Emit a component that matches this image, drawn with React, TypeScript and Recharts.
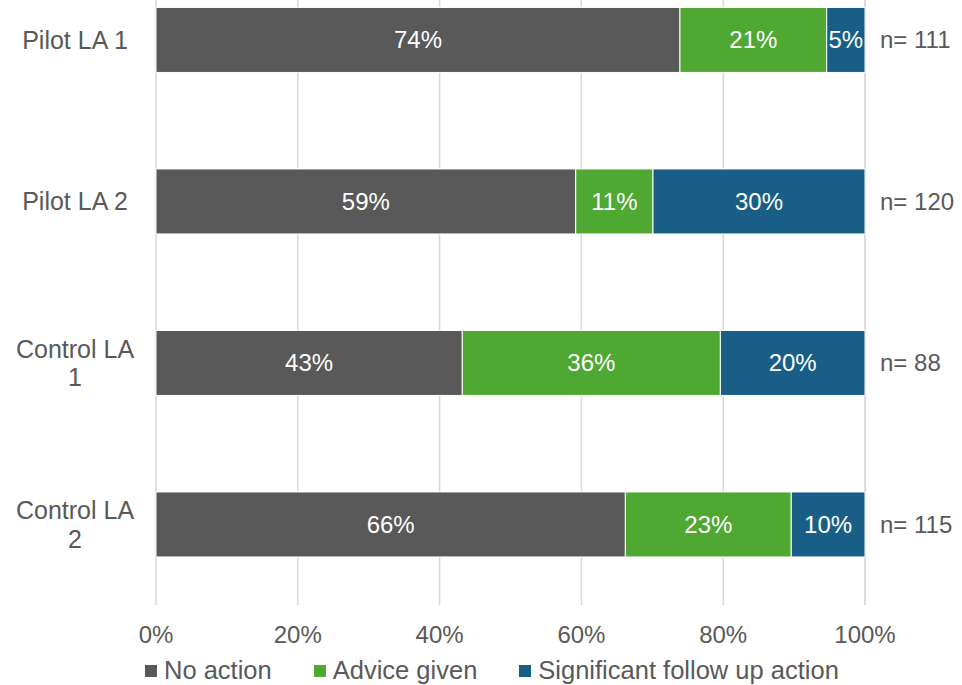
import {
  BarChart,
  Bar,
  XAxis,
  YAxis,
  CartesianGrid,
  Legend,
  LabelList,
} from "recharts";

const categories = ["Pilot LA 1", "Pilot LA 2", "Control LA 1", "Control LA 2"];
const noAction = [73.9, 59.2, 43.2, 66.2];
const adviceGiven = [20.7, 10.9, 36.4, 23.4];
const significantAction = [5.4, 29.9, 20.4, 10.4];
const sampleSizes = [111, 120, 88, 115];
const xTicks = [0, 20, 40, 60, 80, 100];

const seriesNames = ["No action", "Advice given", "Significant follow up action"];
const colors = ["#595959", "#4fa832", "#185e86"];

const FONT = "'Liberation Sans', Arial, sans-serif";
const TEXT = "#595959";

const data = categories.map((cat, i) => ({
  cat,
  noAction: noAction[i],
  adviceGiven: adviceGiven[i],
  significantAction: significantAction[i],
  n: sampleSizes[i],
}));

function wrapLabel(label: string) {
  if (label.length <= 10) return [label];
  const idx = label.lastIndexOf(" ");
  return [label.slice(0, idx), label.slice(idx + 1)];
}

function CategoryTick(props: any) {
  const { x, y, payload } = props;
  const lines = wrapLabel(String(payload.value));
  const lineHeight = 28.5;
  const startY = y - ((lines.length - 1) * lineHeight) / 2;
  return (
    <text
      x={x - 81}
      y={startY}
      textAnchor="middle"
      fill={TEXT}
      fontSize={25}
      fontFamily={FONT}
      dominantBaseline="central"
    >
      {lines.map((line, i) => (
        <tspan key={i} x={x - 81} y={startY + i * lineHeight}>
          {line}
        </tspan>
      ))}
    </text>
  );
}

function LegendContent() {
  return (
    <div
      style={{
        display: "flex",
        alignItems: "center",
        fontFamily: FONT,
        fontSize: 25.5,
        color: TEXT,
        whiteSpace: "nowrap",
      }}
    >
      {seriesNames.map((name, i) => (
        <div
          key={name}
          style={{ display: "flex", alignItems: "center", marginRight: i < 2 ? 42 : 0 }}
        >
          <span
            style={{
              display: "inline-block",
              width: 12,
              height: 12,
              background: colors[i],
              marginRight: 7,
            }}
          />
          <span>{name}</span>
        </div>
      ))}
    </div>
  );
}

const pct = (v: any) => `${Math.round(Number(v))}%`;

export default function App() {
  return (
    <div
      style={{
        position: "absolute",
        left: 0,
        top: 0,
        width: 962,
        height: 685,
        overflow: "hidden",
        background: "#fff",
      }}
    >
      <div style={{ marginTop: -41 }}>
        <BarChart
          width={962}
          height={726}
          data={data}
          layout="vertical"
          margin={{ top: 0, right: 97, left: 0, bottom: 5 }}
          barCategoryGap="30%"
        >
          <CartesianGrid horizontal={false} stroke="#d9d9d9" strokeWidth={1.5} />
          <XAxis
            type="number"
            domain={[0, 100]}
            ticks={xTicks}
            tickFormatter={(v) => `${v}%`}
            axisLine={false}
            tickLine={false}
            tickSize={0}
            tickMargin={21}
            height={40}
            tick={{ fill: TEXT, fontSize: 24, fontFamily: FONT }}
            interval={0}
          />
          <YAxis
            type="category"
            dataKey="cat"
            width={156}
            axisLine={false}
            tickLine={false}
            tickSize={0}
            tickMargin={0}
            tick={<CategoryTick />}
          />
          <Legend
            verticalAlign="bottom"
            height={35}
            content={<LegendContent />}
            wrapperStyle={{ left: 145, top: 697, width: "auto" }}
          />
          <Bar
            dataKey="noAction"
            name={seriesNames[0]}
            stackId="a"
            fill={colors[0]}
            stroke="#ffffff"
            strokeWidth={1}
            isAnimationActive={false}
          >
            <LabelList
              dataKey="noAction"
              position="center"
              formatter={pct}
              fill="#ffffff"
              fontSize={24}
              fontFamily={FONT}
            />
          </Bar>
          <Bar
            dataKey="adviceGiven"
            name={seriesNames[1]}
            stackId="a"
            fill={colors[1]}
            stroke="#ffffff"
            strokeWidth={1}
            isAnimationActive={false}
          >
            <LabelList
              dataKey="adviceGiven"
              position="center"
              formatter={pct}
              fill="#ffffff"
              fontSize={24}
              fontFamily={FONT}
            />
          </Bar>
          <Bar
            dataKey="significantAction"
            name={seriesNames[2]}
            stackId="a"
            fill={colors[2]}
            stroke="#ffffff"
            strokeWidth={1}
            isAnimationActive={false}
          >
            <LabelList
              dataKey="significantAction"
              position="center"
              formatter={pct}
              fill="#ffffff"
              fontSize={24}
              fontFamily={FONT}
            />
            <LabelList
              dataKey="n"
              position="right"
              offset={15}
              formatter={(v: any) => `n= ${v}`}
              fill={TEXT}
              fontSize={24}
              fontFamily={FONT}
            />
          </Bar>
        </BarChart>
      </div>
    </div>
  );
}
